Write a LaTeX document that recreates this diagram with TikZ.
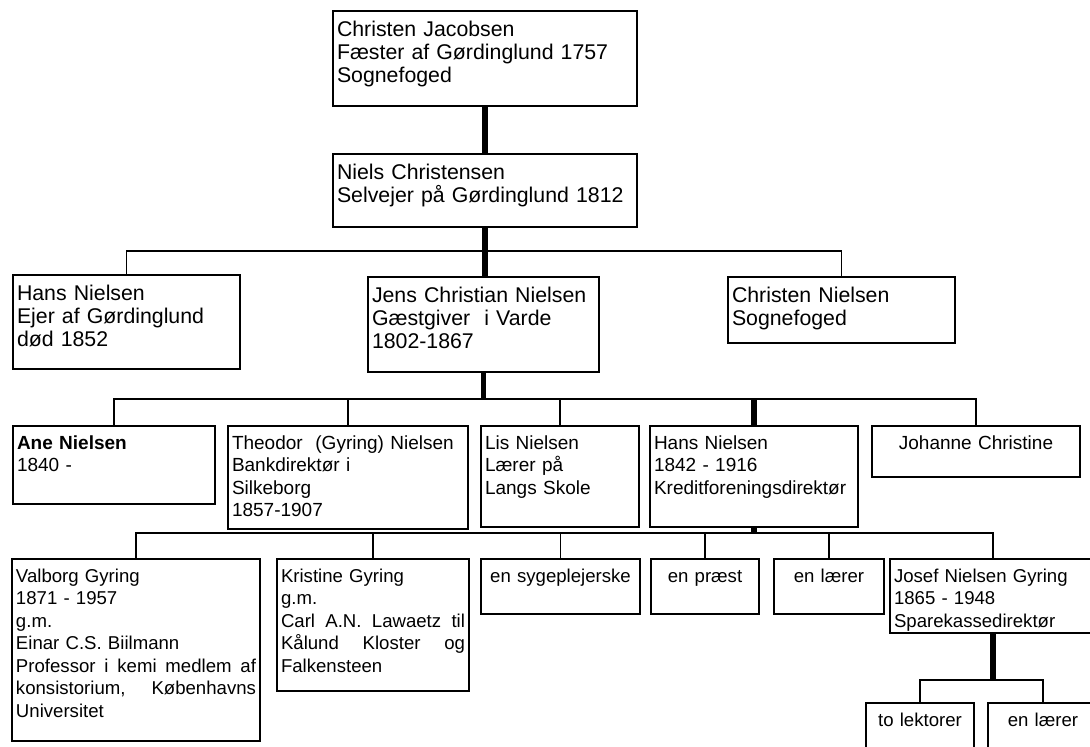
\documentclass[tikz,border=0pt]{standalone}
\usepackage{fontspec}
\setmainfont{Liberation Sans}
\usetikzlibrary{positioning, calc}

\begin{document}
\begin{tikzpicture}[x=1pt, y=-1pt,
        person/.style={draw, line width=2pt, anchor=north west, align=left, inner xsep=4pt, inner ysep=3pt},
        big/.style={person, text height=22pt, font=\fontsize{21.3}{23.3}\selectfont},
        small/.style={person, text height=20pt, font=\fontsize{19}{22.5}\selectfont},
        tiny/.style={person, text height=20pt, font=\fontsize{18.6}{22.5}\selectfont},
        link/.style={line width=1.8pt},
        trunk/.style={line width=5.5pt}]

        \useasboundingbox (0, 0) rectangle (1090, 747);
        \fill[white] (0, 0) rectangle (1090, 747);
        \clip (0, 0) rectangle (1090, 747);

        \coordinate (bar1) at (0, 251);
        \coordinate (bar2) at (0, 399);
        \coordinate (bar3) at (0, 533);
        \coordinate (bar4) at (0, 680);

        \node[big, text width=296pt, text depth=67pt] (cj) at (332, 10) {Christen Jacobsen\\Fæster af Gørdinglund 1757\\Sognefoged};
        \node[big, text width=296pt, text depth=45pt] (nc) at (332, 153) {Niels Christensen\\Selvejer på Gørdinglund 1812};

        \node[big, text width=219pt, text depth=66pt] (hn1) at (12, 274) {Hans Nielsen\\Ejer af Gørdinglund\\død 1852};
        \node[big, text width=223pt, text depth=67pt] (jcn) at (367, 276) {Jens Christian Nielsen\\Gæstgiver\ \ i Varde\\1802-1867};
        \node[big, text width=219pt, text depth=38pt] (cn) at (727, 276) {Christen Nielsen\\Sognefoged};

        \node[small, text width=194pt, text depth=52pt] (an) at (12, 425) {\textbf{Ane Nielsen}\\1840 -};
        \node[small, text width=232pt, text depth=77pt] (tgn) at (227, 425) {Theodor\ \ (Gyring) Nielsen\\Bankdirektør i\\Silkeborg\\1857-1907};
        \node[small, text width=150pt, text depth=75pt] (ln) at (480, 425) {Lis Nielsen\\Lærer på\\Langs Skole};
        \node[small, text width=200pt, text depth=75pt] (hn2) at (649, 425) {Hans Nielsen\\1842 - 1916\\Kreditforeningsdirektør};
        \node[small, align=center, text width=200pt, text depth=25pt] (jc) at (871, 425) {Johanne Christine};

        \node[tiny, text width=240pt, text depth=156pt] (vg) at (11, 558) {Valborg Gyring\\1871 - 1957\\g.m.\\Einar C.S. Biilmann\\Professor\hfill i\hfill kemi\hfill medlem\hfill af\\konsistorium,\hfill Københavns\\Universitet};
        \node[tiny, text width=184pt, text depth=106pt] (kg) at (276, 558) {Kristine Gyring\\g.m.\\Carl\hfill A.N.\hfill Lawaetz\hfill til\\Kålund\hfill Kloster\hfill og\\Falkensteen};
        \node[tiny, align=center, inner xsep=2pt, text width=155pt, text depth=29pt] (sy) at (480, 558) {en sygeplejerske};
        \node[tiny, align=center, text width=100pt, text depth=29pt] (pr) at (650, 558) {en præst};
        \node[tiny, align=center, text width=102pt, text depth=29pt] (lr) at (773, 558) {en lærer};
        \node[tiny, text width=198pt, text depth=48pt] (jng) at (889, 558) {Josef Nielsen Gyring\\1865 - 1948\\Sparekassedirektør};

        \node[tiny, align=center, text width=100pt, text depth=54pt] (tl) at (865, 702) {to lektorer};
        \node[tiny, align=center, text width=102pt, text depth=54pt] (el) at (987, 702) {en lærer};

        \draw[trunk] (cj.south) -- (nc.north);
        \draw[trunk] (nc.south) -- (nc.south |- jcn.north);
        \draw[link] (hn1.north) -- (hn1.north |- bar1) -- (cn.north |- bar1) -- (cn.north);

        \draw[trunk] (jcn.south) -- (jcn.south |- bar2);
        \draw[link] (an.north) -- (an.north |- bar2) -- (jc.north |- bar2) -- (jc.north);
        \foreach \n in {tgn, ln}
            \draw[link] (\n.north) -- (\n.north |- bar2);
        \draw[trunk] (hn2.north |- bar2) -- (hn2.north);

        \draw[trunk] (hn2.south) -- (hn2.south |- bar3);
        \draw[link] (vg.north) -- (vg.north |- bar3) -- (jng.north |- bar3) -- (jng.north);
        \foreach \n in {kg, sy, pr, lr}
            \draw[link] (\n.north) -- (\n.north |- bar3);

        \draw[trunk] (jng.south) -- (jng.south |- bar4);
        \draw[link] (tl.north) -- (tl.north |- bar4) -- (el.north |- bar4) -- (el.north);

\end{tikzpicture}
\end{document}
